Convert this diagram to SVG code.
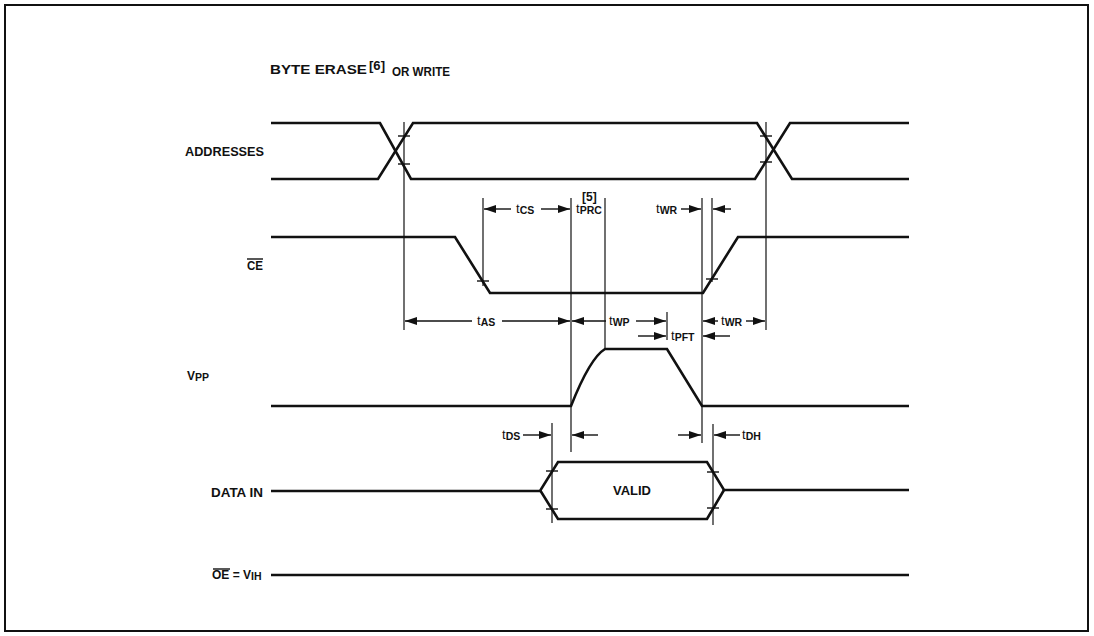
<svg xmlns="http://www.w3.org/2000/svg" width="1094" height="636" viewBox="0 0 1094 636">
<style>
.sig{fill:none;stroke:#111;stroke-width:2.6;stroke-linejoin:miter}
.thin{fill:none;stroke:#111;stroke-width:1.2}
.tick{stroke:#111;stroke-width:1.4}
.arr{stroke:#111;stroke-width:1.4;marker-end:url(#ah)}
.lbl{font-family:"Liberation Sans",Arial,sans-serif;font-weight:bold;font-size:12px;fill:#111}
.t{font-family:"Liberation Sans",Arial,sans-serif;font-size:13px;fill:#111}
.s{font-family:"Liberation Sans",Arial,sans-serif;font-weight:bold;font-size:10.5px}
.frame{fill:none;stroke:#111;stroke-width:2}
</style>
<defs>
<marker id="ah" markerUnits="userSpaceOnUse" markerWidth="12" markerHeight="8" refX="12" refY="4" orient="auto">
<path d="M0,0 L12,4 L0,8 z" fill="#111"/>
</marker>
</defs>
<rect class="frame" x="5" y="5" width="1083" height="626" fill="#fff"/>
<g id="title">
<text class="lbl" x="270" y="74" font-size="12.5" textLength="97" lengthAdjust="spacingAndGlyphs">BYTE ERASE</text>
<text class="lbl" x="369" y="70" font-size="10" textLength="16" lengthAdjust="spacingAndGlyphs">[6]</text>
<text class="lbl" x="392" y="76" font-size="10" textLength="58" lengthAdjust="spacingAndGlyphs">OR WRITE</text>
</g>
<g id="addresses">
<text class="lbl" x="185" y="156" textLength="79" lengthAdjust="spacingAndGlyphs">ADDRESSES</text>
<path class="sig" d="M271,123 H380 L411,179 H755 L790,123 H909"/>
<path class="sig" d="M271,179 H378 L413,123 H757 L792,179 H909"/>
</g>
<g id="ce">
<text class="lbl" x="247" y="270" textLength="16" lengthAdjust="spacingAndGlyphs">CE</text>
<line class="tick" x1="247" y1="259" x2="263" y2="259"/>
<path class="sig" d="M271,237 H455 L490,293 H703 L738,237 H909"/>
</g>
<g id="vpp">
<text class="lbl" x="187" y="380" font-size="12.5">V<tspan class="s" dy="1">PP</tspan></text>
<path class="sig" d="M271,406 H571 Q590,358 605,349 H667 L702,406 H909"/>
</g>
<g id="datain">
<text class="lbl" x="211" y="497" textLength="52" lengthAdjust="spacingAndGlyphs">DATA IN</text>
<path class="sig" d="M271,491 H540 L558,462 H707 L724,490 H909"/>
<path class="sig" d="M540,490 L558,519 H707 L724,490"/>
<text class="lbl" x="613" y="495" font-size="11" textLength="38" lengthAdjust="spacingAndGlyphs">VALID</text>
</g>
<g id="oe">
<text class="lbl" x="212" y="579">OE = V<tspan class="s" dy="1">IH</tspan></text>
<line class="tick" x1="213" y1="569" x2="230" y2="569"/>
<line class="sig" x1="271" y1="575" x2="909" y2="575"/>
</g>
<g id="connectors">
<line class="thin" x1="404" y1="122" x2="404" y2="330"/>
<line class="thin" x1="766" y1="122" x2="766" y2="330"/>
<line class="thin" x1="483" y1="198" x2="483" y2="286"/>
<line class="thin" x1="571" y1="198" x2="571" y2="452"/>
<line class="thin" x1="605" y1="198" x2="605" y2="349"/>
<line class="thin" x1="667" y1="312" x2="667" y2="340"/>
<line class="thin" x1="702" y1="198" x2="702" y2="443"/>
<line class="thin" x1="712" y1="198" x2="712" y2="282"/>
<line class="thin" x1="552" y1="423" x2="552" y2="523"/>
<line class="thin" x1="713" y1="424" x2="713" y2="525"/>
<line class="tick" x1="398" y1="136" x2="410" y2="136"/>
<line class="tick" x1="398" y1="164" x2="410" y2="164"/>
<line class="tick" x1="760" y1="136" x2="772" y2="136"/>
<line class="tick" x1="760" y1="162" x2="772" y2="162"/>
<line class="tick" x1="477" y1="281" x2="489" y2="281"/>
<line class="tick" x1="706" y1="279" x2="718" y2="279"/>
<line class="tick" x1="546" y1="471" x2="558" y2="471"/>
<line class="tick" x1="546" y1="509" x2="558" y2="509"/>
<line class="tick" x1="707" y1="472" x2="719" y2="472"/>
<line class="tick" x1="707" y1="508" x2="719" y2="508"/>
<line class="arr" x1="511" y1="209" x2="484" y2="209"/>
<line class="arr" x1="541" y1="209" x2="570" y2="209"/>
<text class="t" x="516" y="213">t<tspan class="s" dy="1">CS</tspan></text>
<text class="lbl" x="582" y="201" font-size="10.5">[5]</text>
<text class="t" x="576" y="213">t<tspan class="s" dy="1" font-size="9.5">PRC</tspan></text>
<text class="t" x="656" y="213">t<tspan class="s" dy="1">WR</tspan></text>
<line class="arr" x1="681" y1="209" x2="701" y2="209"/>
<line class="arr" x1="731" y1="209" x2="713" y2="209"/>
<line class="arr" x1="472" y1="321" x2="405" y2="321"/>
<text class="t" x="477" y="325">t<tspan class="s" dy="1">AS</tspan></text>
<line class="arr" x1="502" y1="321" x2="570" y2="321"/>
<line class="arr" x1="606" y1="321" x2="572" y2="321"/>
<text class="t" x="609" y="325">t<tspan class="s" dy="1">WP</tspan></text>
<line class="arr" x1="636" y1="321" x2="666" y2="321"/>
<line class="arr" x1="718" y1="321" x2="703" y2="321"/>
<text class="t" x="721" y="325">t<tspan class="s" dy="1">WR</tspan></text>
<line class="arr" x1="746" y1="321" x2="765" y2="321"/>
<line class="arr" x1="638" y1="336" x2="666" y2="336"/>
<text class="t" x="671" y="340">t<tspan class="s" dy="1" font-size="9.5">PFT</tspan></text>
<line class="arr" x1="730" y1="336" x2="703" y2="336"/>
<text class="t" x="502" y="439">t<tspan class="s" dy="1">DS</tspan></text>
<line class="arr" x1="523" y1="435" x2="551" y2="435"/>
<line class="arr" x1="598" y1="435" x2="572" y2="435"/>
<line class="arr" x1="678" y1="435" x2="701" y2="435"/>
<line class="arr" x1="740" y1="435" x2="714" y2="435"/>
<text class="t" x="742" y="439">t<tspan class="s" dy="1">DH</tspan></text>
</g>
</svg>
